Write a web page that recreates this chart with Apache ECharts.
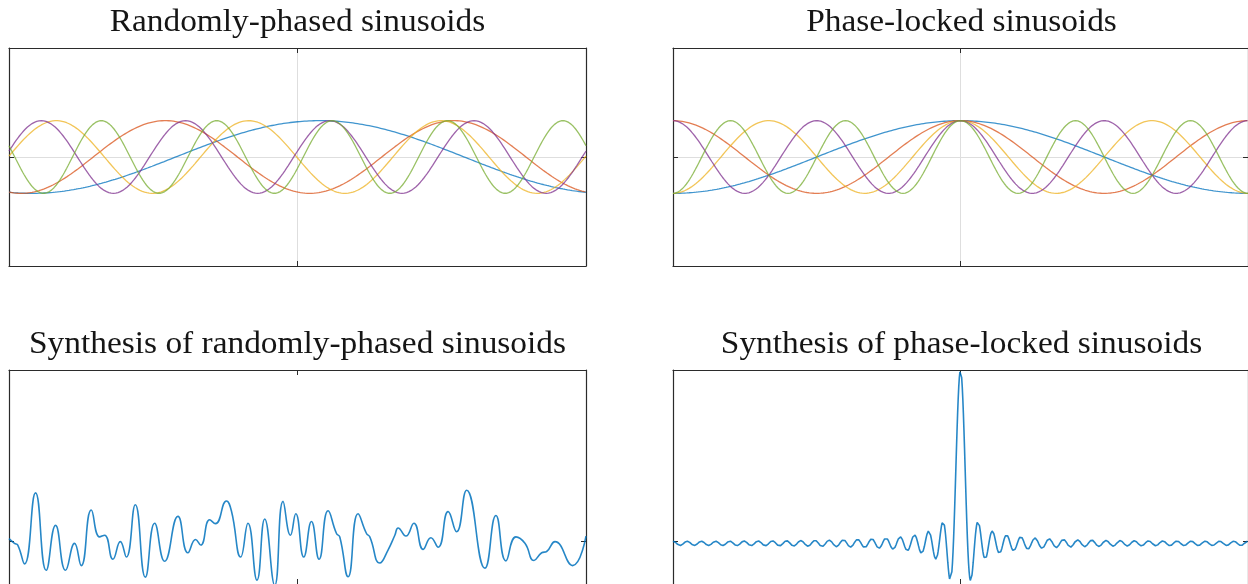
<!DOCTYPE html>
<html>
<head>
<meta charset="utf-8">
<script src="https://cdn.jsdelivr.net/npm/echarts@6/dist/echarts.min.js"></script>
<style>
  html, body { margin: 0; padding: 0; background: #ffffff; }
  #chart { width: 1248px; height: 584px; }
</style>
</head>
<body>
<div id="chart"></div>
<script>
// Panel titles, row by row
const panelTitles = [
  'Randomly-phased sinusoids',
  'Phase-locked sinusoids',
  'Synthesis of randomly-phased sinusoids',
  'Synthesis of phase-locked sinusoids'
];

// The five component sinusoids in the top panels (cycles per window, window = -0.5 .. 0.5)
const componentFreqs = [1, 2, 3, 4, 5];
const componentAmps = [1, 1, 1, 1, 1];
// x position of one crest of each component
const randomCrests = [0.039, -0.229, -0.418, -0.444, -0.340];
const lockedCrests = [0, 0, 0, 0, 0];
const componentColors = ['#0072BD', '#D95319', '#EDB120', '#7E2F8E', '#77AC30'];

// Harmonics summed with zero phase in the phase-locked synthesis
const synthFreqs = [1, 2, 3, 4, 5, 6, 7, 8, 9, 10, 11, 12, 13, 14, 15, 16, 17, 18, 19, 20,
                    21, 22, 23, 24, 25, 26, 27, 28, 29, 30, 31, 32, 33, 34, 35, 36, 37, 38, 39, 40];

// Synthesis of randomly-phased sinusoids: traced [x, amplitude] points
const randomSynth = [
  [-0.5, 0.6], [-0.4905, -0.5], [-0.4848, -0.9], [-0.4731, -5.3], [-0.4540, 11.3],
  [-0.4355, -6.8], [-0.4193, 3.7], [-0.4020, -6.8], [-0.3864, -0.5], [-0.3748, -5.7],
  [-0.3574, 7.3], [-0.3430, 1.0], [-0.3343, 1.4], [-0.3199, -4.2], [-0.3071, -0.1],
  [-0.2967, -3.7], [-0.2811, 8.5], [-0.2637, -8.4], [-0.2476, 4.2], [-0.2303, -4.7],
  [-0.2072, 5.8], [-0.1899, -2.7], [-0.1765, 0.4], [-0.1678, -0.9], [-0.1522, 5.0],
  [-0.1423, 4.1], [-0.1232, 9.4], [-0.1146, 7.1], [-0.0984, -3.7], [-0.0858, 4.2],
  [-0.0702, -9.1], [-0.0568, 5.2], [-0.0395, -10.3], [-0.0251, 9.3], [-0.0122, 1.4],
  [-0.0030, 6.4], [0.0108, -3.7], [0.0242, 4.6], [0.0374, -4.2], [0.0530, 7.1],
  [0.0676, 1.8], [0.0733, 1.0], [0.0877, -8.3], [0.1050, 6.4], [0.1196, 1.8],
  [0.1253, 1.0], [0.1427, -5.1], [0.1571, -2.0], [0.1687, 1.4], [0.1744, 3.1],
  [0.1878, 1.2], [0.2017, 4.2], [0.2178, -1.9], [0.2311, 0.8], [0.2438, -1.4],
  [0.2611, 6.9], [0.2757, 2.2], [0.2931, 11.9], [0.3248, -6.3], [0.3439, 6.0],
  [0.3612, -4.6], [0.3786, 1.0], [0.3942, -0.5], [0.4098, -4.5], [0.4232, -2.7],
  [0.4318, -2.4], [0.4462, -0.1], [0.4769, -5.7], [0.5, 1.2]
];

// Axis ranges
const xRange = [-0.5, 0.5];
const componentYRange = [-3, 3];
const synthYRange = [-10, 40];

// ---- sampling helpers ----
const SAMPLES = 1000;
function sampleX() {
  const xs = [];
  for (let i = 0; i <= SAMPLES; i++) xs.push(xRange[0] + (xRange[1] - xRange[0]) * i / SAMPLES);
  return xs;
}
function componentCurve(freq, amp, crest) {
  return sampleX().map(x => [x, amp * Math.cos(2 * Math.PI * freq * (x - crest))]);
}
function lockedSum() {
  return sampleX().map(x => {
    let s = 0;
    for (const f of synthFreqs) s += Math.cos(2 * Math.PI * f * x);
    return [x, s];
  });
}

// ---- layout ----
const panelBoxes = [
  { left: 9, top: 48 }, { left: 673, top: 48 },
  { left: 9, top: 370 }, { left: 673, top: 370 }
];
const BOX_W = 577, BOX_H = 218;
const axisColor = '#2b2b2b';

const grids = panelBoxes.map(b => ({ left: b.left, top: b.top, width: BOX_W, height: BOX_H, containLabel: false }));

const xAxes = [], yAxes = [];
panelBoxes.forEach((b, i) => {
  const withGrid = i < 2;
  const yr = withGrid ? componentYRange : synthYRange;
  const lineCommon = { show: true, onZero: false, lineStyle: { color: axisColor, width: 1.2 } };
  // top panels: ticks every half range (edge ticks sit on the box); bottom panels: a single tick at zero
  const tickTop = { show: true, inside: true, length: 5, lineStyle: { color: axisColor, width: 1 } };
  const tickBottom = Object.assign({}, tickTop, { customValues: [0] });
  const tick = withGrid ? tickTop : tickBottom;
  const gridLine = { show: withGrid, showMinLine: false, showMaxLine: false, lineStyle: { color: '#dedede', width: 1 } };
  ['bottom', 'top'].forEach((pos, k) => {
    xAxes.push({
      type: 'value', gridIndex: i, position: pos, min: xRange[0], max: xRange[1], interval: 0.5,
      axisLine: lineCommon, axisTick: tick, axisLabel: { show: false },
      splitLine: k === 0 ? gridLine : { show: false }
    });
  });
  ['left', 'right'].forEach((pos, k) => {
    yAxes.push({
      type: 'value', gridIndex: i, position: pos, min: yr[0], max: yr[1],
      interval: withGrid ? 3 : 10,
      axisLine: lineCommon, axisTick: tick, axisLabel: { show: false },
      splitLine: k === 0 ? gridLine : { show: false }
    });
  });
});

const series = [];
// top panels: individual components
[randomCrests, lockedCrests].forEach((crests, p) => {
  componentFreqs.forEach((f, j) => {
    series.push({
      type: 'line', xAxisIndex: 2 * p, yAxisIndex: 2 * p,
      data: componentCurve(f, componentAmps[j], crests[j]),
      showSymbol: false, silent: true, clip: true,
      lineStyle: { color: componentColors[j], width: 1.3, opacity: 0.75 }
    });
  });
});
// bottom-left: random-phase synthesis
series.push({
  type: 'line', xAxisIndex: 4, yAxisIndex: 4, data: randomSynth,
  smooth: 0.5, showSymbol: false, silent: true, clip: true,
  lineStyle: { color: '#0072BD', width: 1.6, opacity: 0.85 }
});
// bottom-right: phase-locked synthesis
series.push({
  type: 'line', xAxisIndex: 6, yAxisIndex: 6, data: lockedSum(),
  showSymbol: false, silent: true, clip: true,
  lineStyle: { color: '#0072BD', width: 1.6, opacity: 0.85 }
});

const titleGraphics = panelTitles.map((t, i) => ({
  type: 'text',
  x: panelBoxes[i].left + BOX_W / 2,
  y: i < 2 ? 23 : 345,
  scaleX: 1.077,
  style: {
    text: t, fill: '#151515',
    font: '31px "Liberation Serif"',
    align: 'center', verticalAlign: 'middle'
  }
}));

const chart = echarts.init(document.getElementById('chart'), null, { renderer: 'canvas' });
chart.setOption({
  animation: false,
  backgroundColor: '#ffffff',
  grid: grids,
  xAxis: xAxes,
  yAxis: yAxes,
  series: series,
  graphic: titleGraphics
});
</script>
</body>
</html>
